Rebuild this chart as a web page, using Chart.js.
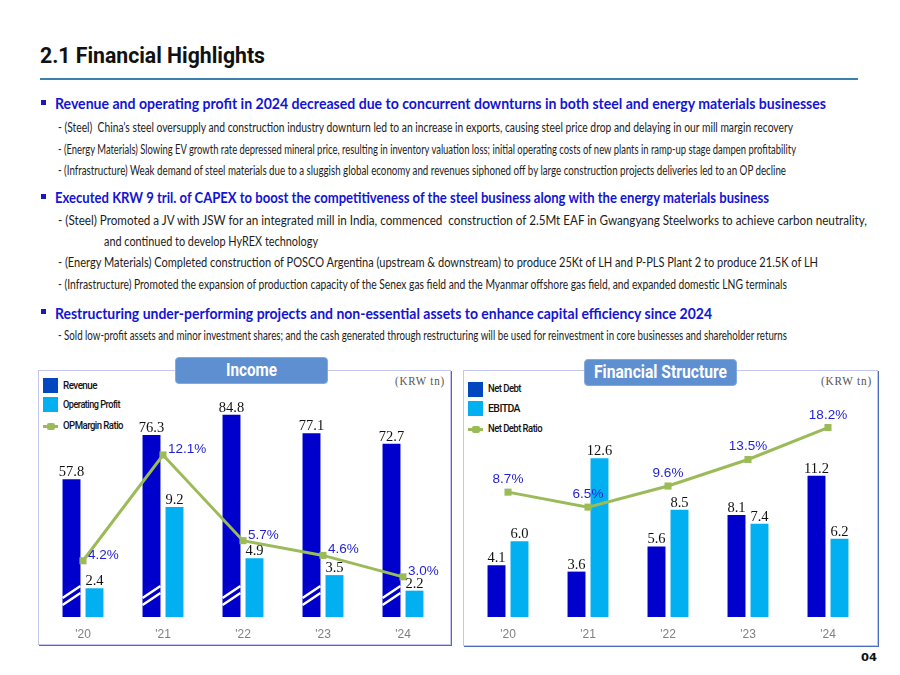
<!DOCTYPE html>
<html>
<head>
<meta charset="utf-8">
<script src="https://cdn.jsdelivr.net/npm/chart.js@4.4.1/dist/chart.umd.min.js"></script>
<style>
  body { margin: 0; background: #fff; }
  #page { position: relative; width: 900px; height: 675px; overflow: hidden; font-family: Lato, "Open Sans", sans-serif; }
  .t { position: absolute; white-space: nowrap; line-height: 16px; transform-origin: 0 50%; }
  .head { font-weight: 700; font-size: 14.5px; color: #1414d4; }
  .sub { font-size: 12.5px; color: #1c1c1c; }
  .bul { position: absolute; width: 5px; height: 5px; background: #1a1ab8; }
  .panel { position: absolute; border: 1px solid #c3c6ee; box-shadow: 1px 1px 0 #4a6cc4; }
  .tab { position: absolute; background: #5e8fd1; border: 1px solid #86a9dc; border-radius: 4px; }
  .tabtxt { font-family: Roboto, sans-serif; font-weight: 700; font-size: 19px; color: #fff; line-height: 20px; }
  .krw { font-family: "Liberation Serif", serif; font-size: 13.5px; color: #555; letter-spacing: 1px; }
  .lg { font-family: Roboto, sans-serif; font-size: 11px; font-weight: 500; color: #111; letter-spacing: -0.6px; }
  .sq { position: absolute; width: 15px; height: 15px; }
  .lnicon { position: absolute; width: 15px; height: 3px; background: #9bbb59; }
  .lnicon::after { content: ""; position: absolute; left: 4px; top: -2px; width: 8px; height: 7px; border-radius: 2px; background: #9bbb59; }
  canvas { position: absolute; }
</style>
</head>
<body>
<div id="page">
  <div class="t" data-w="225" style="left:40px;top:44px;line-height:24px;font-family:Roboto,sans-serif;font-weight:700;font-size:22px;color:#111;">2.1 Financial Highlights</div>
  <div style="position:absolute;left:40px;top:78px;width:818px;height:2px;background:#3a82ad;"></div>

  <div class="bul" style="left:41px;top:100px;"></div>
  <div class="t head" data-w="771" style="left:55px;top:96px;">Revenue and operating profit in 2024 decreased due to concurrent downturns in both steel and energy materials businesses</div>
  <div class="t sub" data-w="735" style="left:58px;top:120px;">- (Steel)&nbsp; China’s steel oversupply and construction industry downturn led to an increase in exports, causing steel price drop and delaying in our mill margin recovery</div>
  <div class="t sub" data-w="738" style="left:58px;top:142px;">- (Energy Materials) Slowing EV growth rate depressed mineral price, resulting in inventory valuation loss; initial operating costs of new plants in ramp-up stage dampen profitability</div>
  <div class="t sub" data-w="728" style="left:58px;top:163px;">- (Infrastructure) Weak demand of steel materials due to a sluggish global economy and revenues siphoned off by large construction projects deliveries led to an OP decline</div>

  <div class="bul" style="left:41px;top:194px;"></div>
  <div class="t head" data-w="714" style="left:55px;top:190px;">Executed KRW 9 tril. of CAPEX to boost the competitiveness of the steel business along with the energy materials business</div>
  <div class="t sub" data-w="809" style="left:58px;top:213px;">- (Steel) Promoted a JV with JSW for an integrated mill in India, commenced&nbsp; construction of 2.5Mt EAF in Gwangyang Steelworks to achieve carbon neutrality,</div>
  <div class="t sub" data-w="214" style="left:104px;top:234px;">and continued to develop HyREX technology</div>
  <div class="t sub" data-w="760" style="left:58px;top:255px;">- (Energy Materials) Completed construction of POSCO Argentina (upstream &amp; downstream) to produce 25Kt of LH and P-PLS Plant 2 to produce 21.5K of LH</div>
  <div class="t sub" data-w="729" style="left:58px;top:277px;">- (Infrastructure) Promoted the expansion of production capacity of the Senex gas field and the Myanmar offshore gas field, and expanded domestic LNG terminals</div>

  <div class="bul" style="left:41px;top:309px;"></div>
  <div class="t head" data-w="657" style="left:55px;top:306px;">Restructuring under-performing projects and non-essential assets to enhance capital efficiency since 2024</div>
  <div class="t sub" data-w="729" style="left:58px;top:328px;">- Sold low-profit assets and minor investment shares; and the cash generated through restructuring will be used for reinvestment in core businesses and shareholder returns</div>

  <!-- Income panel -->
  <div class="panel" style="left:38px;top:370px;width:411px;height:273px;"></div>
  <div class="tab" style="left:175px;top:357px;width:151px;height:25px;"></div>
  <div class="t tabtxt" data-w="51" style="left:226px;top:360px;">Income</div>
  <div class="t krw" data-w="50" style="left:395px;top:373px;">(KRW tn)</div>
  <div class="sq" style="left:43px;top:378px;background:#0047c0;"></div>
  <div class="sq" style="left:43px;top:397px;background:#00b0f0;"></div>
  <div class="lnicon" style="left:43px;top:425px;"></div>
  <div class="t lg" data-w="34" style="left:63px;top:378px;">Revenue</div>
  <div class="t lg" data-w="57" style="left:63px;top:397px;">Operating Profit</div>
  <div class="t lg" data-w="60" style="left:63px;top:418px;">OPMargin Ratio</div>
  <canvas id="incomeChart" width="400" height="265" style="left:43px;top:380px;"></canvas>

  <!-- Financial structure panel -->
  <div class="panel" style="left:463px;top:370px;width:413px;height:274px;"></div>
  <div class="tab" style="left:584px;top:359px;width:151px;height:25px;"></div>
  <div class="t tabtxt" data-w="133" style="left:594px;top:362px;">Financial Structure</div>
  <div class="t krw" data-w="51" style="left:821px;top:373px;">(KRW tn)</div>
  <div class="sq" style="left:468px;top:382px;background:#0047c0;"></div>
  <div class="sq" style="left:468px;top:401px;background:#00b0f0;"></div>
  <div class="lnicon" style="left:468px;top:428px;"></div>
  <div class="t lg" data-w="33" style="left:488px;top:381px;">Net Debt</div>
  <div class="t lg" data-w="32" style="left:488px;top:401px;">EBITDA</div>
  <div class="t lg" data-w="54" style="left:488px;top:421px;">Net Debt Ratio</div>
  <canvas id="structureChart" width="400" height="265" style="left:468px;top:380px;"></canvas>

  <div class="t" data-w="16" style="left:861px;top:650px;font-family:'DejaVu Sans',sans-serif;font-weight:700;font-size:11px;color:#111;">04</div>
</div>

<script>
// ---- data ----
const years = ["'20", "'21", "'22", "'23", "'24"];

const revenue = [57.8, 76.3, 84.8, 77.1, 72.7];
const operatingProfit = [2.4, 9.2, 4.9, 3.5, 2.2];
const opMarginRatio = [4.2, 12.1, 5.7, 4.6, 3.0];

const netDebt = [4.1, 3.6, 5.6, 8.1, 11.2];
const ebitda = [6.0, 12.6, 8.5, 7.4, 6.2];
const netDebtRatio = [8.7, 6.5, 9.6, 13.5, 18.2];

const DARK_BLUE = "#0000cc";
const LIGHT_BLUE = "#00b0f0";
const GREEN = "#9bbb59";
const PCT_BLUE = "#1f1fd6";

// stretch/shrink the text lines to the widths used on the slide
function fitText() {
    document.querySelectorAll("[data-w]").forEach(function (el) {
        el.style.transform = "none";
        const natural = el.getBoundingClientRect().width;
        const target = parseFloat(el.dataset.w);
        if (natural > 0) el.style.transform = "scaleX(" + (target / natural) + ")";
    });
}
fitText();
if (document.fonts) document.fonts.ready.then(fitText);

// value labels above bars / beside points
const valueLabels = {
    id: "valueLabels",
    afterDatasetsDraw(chart) {
        const ctx = chart.ctx;
        chart.data.datasets.forEach(function (ds, i) {
            const meta = chart.getDatasetMeta(i);
            meta.data.forEach(function (el, j) {
                const text = ds.data[j].toFixed(1) + (ds.suffix || "");
                ctx.save();
                ctx.font = ds.labelFont;
                ctx.fillStyle = ds.labelColor;
                ctx.textBaseline = "alphabetic";
                if (ds.labelPos === "right") {
                    ctx.textAlign = "left";
                    ctx.fillText(text, el.x + 5, el.y - 2);
                } else if (ds.labelPos === "above") {
                    ctx.textAlign = "center";
                    ctx.fillText(text, el.x, el.y - 9);
                } else {
                    ctx.textAlign = "center";
                    ctx.fillText(text, el.x, el.y - 3);
                }
                ctx.restore();
            });
        });
    }
};

// axis-break marks (the white "//") on the revenue bars
const breakMarks = {
    id: "breakMarks",
    afterDatasetsDraw(chart) {
        const ctx = chart.ctx;
        chart.data.datasets.forEach(function (ds, i) {
            if (!ds.broken) return;
            chart.getDatasetMeta(i).data.forEach(function (bar) {
                const left = bar.x - bar.width / 2;
                const right = bar.x + bar.width / 2;
                ctx.save();
                ctx.strokeStyle = "#ffffff";
                ctx.lineWidth = 2.5;
                ctx.beginPath();
                ctx.moveTo(left, bar.base - 12);
                ctx.lineTo(right, bar.base - 24);
                ctx.moveTo(left, bar.base - 19);
                ctx.lineTo(right, bar.base - 31);
                ctx.stroke();
                ctx.restore();
            });
        });
    }
};

const barLabelFont = "14.5px 'Liberation Serif', serif";
const pctLabelFont = "13.5px 'Liberation Sans', sans-serif";

function xAxis() {
    return {
        grid: { display: false, drawTicks: false },
        border: { display: false },
        ticks: { color: "#808080", font: { family: "'Liberation Sans', sans-serif", size: 12 }, padding: 10 },
        afterFit: function (scale) { scale.height = 28; }
    };
}

const baseOptions = {
    responsive: false,
    animation: false,
    layout: { padding: 0, autoPadding: false },
    plugins: { legend: { display: false }, tooltip: { enabled: false } }
};

new Chart(document.getElementById("incomeChart"), {
    type: "bar",
    data: {
        labels: years,
        datasets: [
            {
                type: "line", label: "OP Margin Ratio", data: opMarginRatio, yAxisID: "yPct", order: 0,
                borderColor: GREEN, borderWidth: 3, pointStyle: "rect", pointRadius: 5,
                pointBackgroundColor: GREEN, pointBorderWidth: 0,
                labelPos: "right", labelColor: PCT_BLUE, labelFont: pctLabelFont, suffix: "%"
            },
            {
                label: "Revenue", data: revenue, yAxisID: "yRev", order: 1, broken: true,
                backgroundColor: DARK_BLUE, categoryPercentage: 0.575, barPercentage: 0.78,
                labelColor: "#111", labelFont: barLabelFont
            },
            {
                label: "Operating Profit", data: operatingProfit, yAxisID: "yOp", order: 2,
                backgroundColor: LIGHT_BLUE, categoryPercentage: 0.575, barPercentage: 0.78,
                labelColor: "#111", labelFont: barLabelFont
            }
        ]
    },
    options: Object.assign({}, baseOptions, {
        scales: {
            x: xAxis(),
            yRev: { display: false, min: 0, max: 99.4 },
            yOp: { display: false, min: 0, max: 19.8 },
            yPct: { display: false, min: 0, max: 17.7 }
        }
    }),
    plugins: [breakMarks, valueLabels]
});

new Chart(document.getElementById("structureChart"), {
    type: "bar",
    data: {
        labels: years,
        datasets: [
            {
                type: "line", label: "Net Debt Ratio", data: netDebtRatio, yAxisID: "yRatio", order: 0,
                borderColor: GREEN, borderWidth: 3, pointStyle: "rect", pointRadius: 5,
                pointBackgroundColor: GREEN, pointBorderWidth: 0,
                labelPos: "above", labelColor: PCT_BLUE, labelFont: pctLabelFont, suffix: "%"
            },
            {
                label: "Net Debt", data: netDebt, yAxisID: "yAmt", order: 1,
                backgroundColor: DARK_BLUE, categoryPercentage: 0.575, barPercentage: 0.78,
                labelColor: "#111", labelFont: barLabelFont
            },
            {
                label: "EBITDA", data: ebitda, yAxisID: "yAmt", order: 2,
                backgroundColor: LIGHT_BLUE, categoryPercentage: 0.575, barPercentage: 0.78,
                labelColor: "#111", labelFont: barLabelFont
            }
        ]
    },
    options: Object.assign({}, baseOptions, {
        scales: {
            x: xAxis(),
            yAmt: { display: false, min: 0, max: 18.8 },
            yRatio: { display: false, min: -9.66, max: 25.19 }
        }
    }),
    plugins: [valueLabels]
});
</script>
</body>
</html>
